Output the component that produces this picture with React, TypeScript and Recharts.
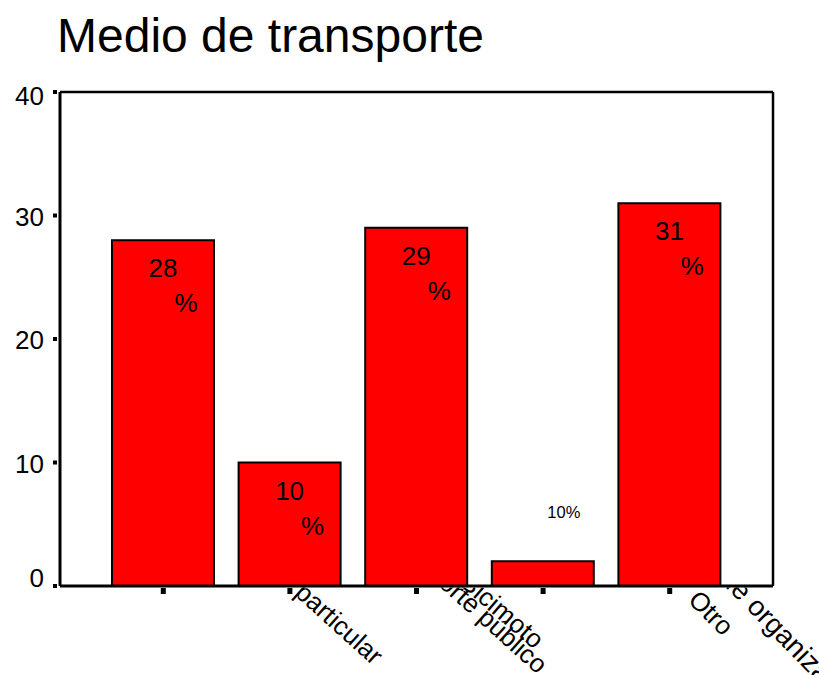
import React from "react";
import { BarChart, Bar, XAxis, YAxis, LabelList, CartesianGrid } from "recharts";

// ---------- data ----------
const title = "Medio de transporte";
const categories = ["A pie", "Vehículo particular", "Transporte público", "Bicimoto", "Otro"];
const counts = [28, 10, 29, 2, 31];
const percentLabels = ["28%", "10%", "29%", "10%", "31%"];
const yTicks = [0, 10, 20, 30, 40];
const tickLabelLines = [
  ["A pie"],
  ["Vehículo particular"],
  ["Transporte público"],
  ["Bicimoto"],
  ["Otro", "Transporte de organización"],
];

// ---------- layout / style ----------
const W = 819;
const H = 675;
const FONT = '"Liberation Sans", Arial, Helvetica, sans-serif';
// end point of each rotated label line, relative to its tick: dx, dy, angle, font size
const LABEL_END: number[][][] = [
  [[0, -6, 42, 26]],
  [[83, 80, 42, 26]],
  [[121, 89, 42, 26]],
  [[-9, 64, 41, 26]],
  [[53, 51, 45, 26], [186, 136, 46, 28]],
];

const rows = categories.map((name, i) => ({ name, count: counts[i], pct: percentLabels[i] }));

const YTick = (props: any) => {
  const { x, y, payload } = props;
  const v = payload.value;
  const dy = v === 40 ? 13 : v === 0 ? 1 : 10;
  return (
    <g>
      <rect x={x - 7} y={y - 2} width={4} height={4} fill="#000" />
      <text x={x - 16} y={y + dy} textAnchor="end" fontSize={26} fontFamily={FONT} fill="#000">
        {v}
      </text>
    </g>
  );
};

const XTick = (props: any) => {
  const { x, y, index } = props;
  const lines = tickLabelLines[index] || [];
  const ends = LABEL_END[index] || [];
  const clipId = `xclip-${index}`;
  return (
    <g>
      <defs>
        <clipPath id={clipId}>
          <rect x={0} y={y + 1.5} width={W + 200} height={300} />
        </clipPath>
      </defs>
      <rect x={x - 2.5} y={y + 2} width={5} height={6} fill="#000" />
      <g clipPath={`url(#${clipId})`}>
        {lines.map((t, k) => {
          const ex = x + ends[k][0];
          const ey = y + ends[k][1];
          return (
            <text
              key={k}
              x={ex}
              y={ey}
              transform={`rotate(${ends[k][2]}, ${ex}, ${ey})`}
              textAnchor="end"
              fontSize={ends[k][3]}
              fontFamily={FONT}
              fill="#000"
            >
              {t}
            </text>
          );
        })}
      </g>
    </g>
  );
};

const BarLabel = (props: any) => {
  const { x, y, width, index } = props;
  const label = percentLabels[index];
  const cx = x + width / 2;
  if (counts[index] < 5) {
    return (
      <text x={cx + 21} y={y - 43} textAnchor="middle" fontSize={16.5} fontFamily={FONT} fill="#000">
        {label}
      </text>
    );
  }
  const num = label.replace("%", "");
  return (
    <g>
      <text x={cx} y={y + 37} textAnchor="middle" fontSize={26} fontFamily={FONT} fill="#000">
        {num}
      </text>
      <text x={cx + 23} y={y + 72} textAnchor="middle" fontSize={26} fontFamily={FONT} fill="#000">
        %
      </text>
    </g>
  );
};

export default function App() {
  return (
    <div style={{ position: "relative", width: W, height: H, background: "#fff" }}>
      <style>{`html,body{margin:0;padding:0;overflow:hidden;background:#fff}`}</style>
      <BarChart width={W} height={H} data={rows} margin={{ top: 92, right: 46, bottom: 0, left: 0 }}>
        <CartesianGrid
          stroke="#000"
          strokeWidth={2.5}
          strokeDasharray=""
          horizontalCoordinatesGenerator={(p: any) => [p.offset.top]}
          verticalCoordinatesGenerator={(p: any) => [p.offset.left + p.offset.width]}
        />
        <XAxis
          dataKey="name"
          height={89}
          padding={{ left: 40, right: 40 }}
          axisLine={{ stroke: "#000", strokeWidth: 3 }}
          tickLine={false}
          tickSize={0}
          tickMargin={0}
          tick={<XTick />}
          interval={0}
        />
        <YAxis
          domain={[0, 40]}
          ticks={yTicks}
          width={60}
          axisLine={{ stroke: "#000", strokeWidth: 3 }}
          tickLine={false}
          tickSize={0}
          tickMargin={0}
          tick={<YTick />}
          interval={0}
        />
        <Bar dataKey="count" fill="#ff0000" stroke="#000" strokeWidth={2} barSize={102} isAnimationActive={false}>
          <LabelList dataKey="pct" content={<BarLabel />} />
        </Bar>
      </BarChart>
      <svg width={W} height={70} style={{ position: "absolute", left: 0, top: 0, pointerEvents: "none" }}>
        <text x={57} y={52} fontSize={48} fontFamily={FONT} fill="#000">
          {title}
        </text>
      </svg>
    </div>
  );
}
